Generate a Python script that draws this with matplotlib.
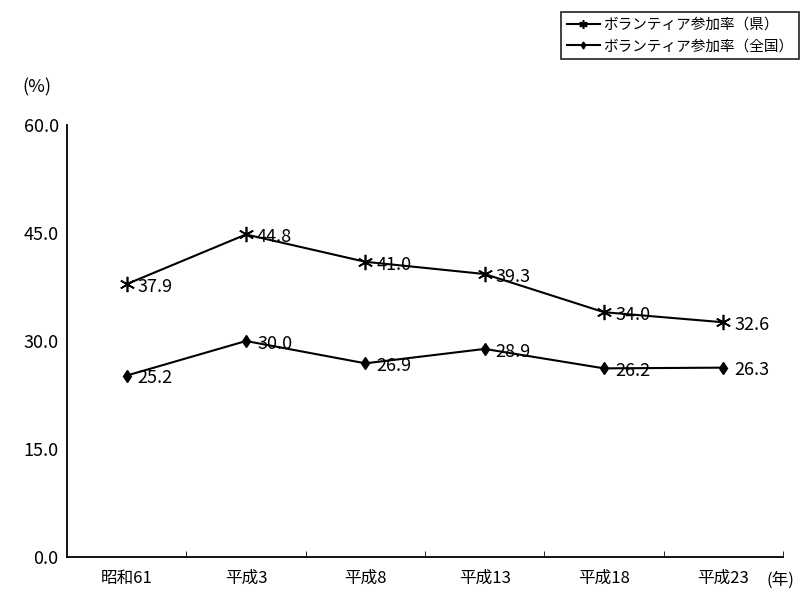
import matplotlib
matplotlib.use("Agg")
import matplotlib.pyplot as plt

plt.rcParams['font.family'] = ['Noto Sans CJK JP', 'DejaVu Sans']

categories = ["昭和61", "平成3", "平成8", "平成13", "平成18", "平成23"]
pref = [37.9, 44.8, 41.0, 39.3, 34.0, 32.6]
nation = [25.2, 30.0, 26.9, 28.9, 26.2, 26.3]
yticks = [0, 15, 30, 45, 60]
series_names = ["ボランティア参加率（県）", "ボランティア参加率（全国）"]

fig = plt.figure(figsize=(8.01, 5.94), dpi=100)
ax = fig.add_axes([67/801, 1-557/594, (783-67)/801, (557-125)/594])

x = list(range(len(categories)))
l1, = ax.plot(x, pref, color='black', lw=1.5, marker=(6, 2, 0), ms=11, mew=1.2,
              label=series_names[0])
l2, = ax.plot(x, nation, color='black', lw=1.5, marker='d', ms=6.5, mew=1,
              label=series_names[1])
for xi, v in zip(x, pref):
    ax.annotate(f"{v:.1f}", (xi, v), xytext=(8, -2), textcoords='offset points',
                va='center', ha='left', fontsize=13)
for xi, v in zip(x, nation):
    ax.annotate(f"{v:.1f}", (xi, v), xytext=(8, -2), textcoords='offset points',
                va='center', ha='left', fontsize=13)

ax.set_xlim(-0.5, len(categories) - 0.5)
ax.set_ylim(0, 60)
ax.set_yticks(yticks)
ax.set_yticklabels([f"{t:.1f}" for t in yticks], fontsize=13)
ax.set_xticks(x)
ax.set_xticklabels(categories, fontsize=12)
ax.set_xticks([i + 0.5 for i in x], minor=True)
ax.tick_params(axis='x', which='major', length=0, pad=9)
ax.tick_params(axis='x', which='minor', length=4, direction='in')
ax.tick_params(axis='y', length=0, pad=6)
for s in ['top', 'right']:
    ax.spines[s].set_visible(False)
for s in ['left', 'bottom']:
    ax.spines[s].set_linewidth(1.3)

fig.text(22/801, 1-87/594, "(%)", fontsize=13, va='center', ha='left')
fig.text(766/801, 1-580/594, "(年)", fontsize=12, va='center', ha='left')

leg = fig.legend(handles=[l1, l2], loc='upper right', bbox_to_anchor=(799/801, 1-12/594),
                 fontsize=10.5, frameon=True, fancybox=False, edgecolor='black',
                 handlelength=2.3, handletextpad=0.2, borderpad=0.4,
                 labelspacing=0.5, markerscale=0.55, borderaxespad=0)
leg.get_frame().set_linewidth(1.3)

fig.savefig("out.png", dpi=100)
